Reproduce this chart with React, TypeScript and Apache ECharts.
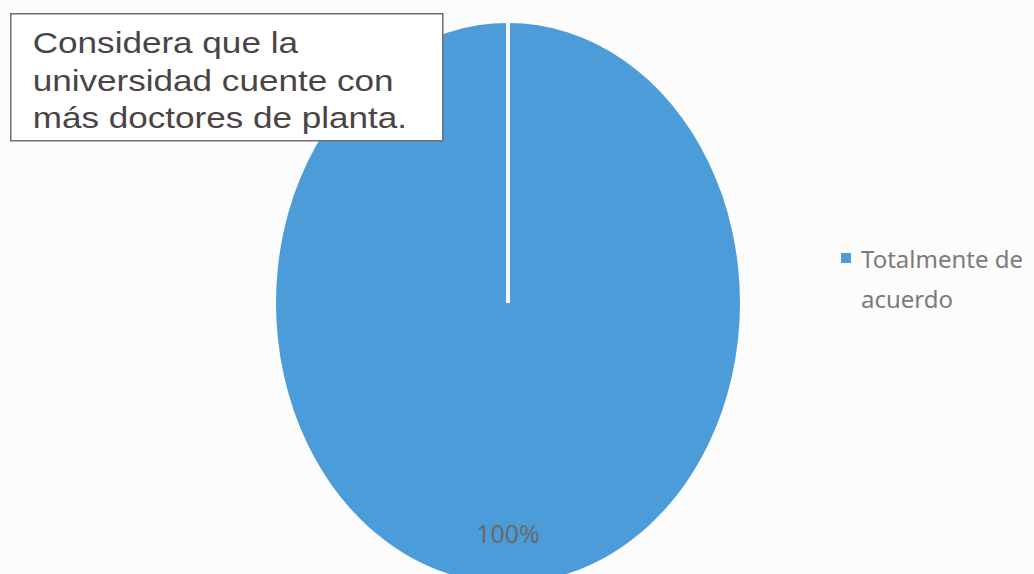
import React, { useEffect, useRef } from "react";
import * as echarts from "echarts";

const titleLines = ["Considera que la", "universidad cuente con", "más doctores de planta."];
const categories = ["Totalmente de acuerdo"];
const values = [100];
const legendLines = ["Totalmente de", "acuerdo"];

export default function App() {
  const ref = useRef<HTMLDivElement>(null);
  useEffect(() => {
    if (!ref.current) return;
    const chart = echarts.init(ref.current, null, { renderer: "svg" });
    const total = values.reduce((a, b) => a + b, 0);
    const cx = 508, cy = 303, rx = 232, ry = 280;
    const color = "#4b9cd9";
    chart.setOption({
      animation: false,
      backgroundColor: "#fcfcfc",
      legend: {
        orient: "vertical",
        left: 841,
        top: 198,
        padding: 0,
        itemWidth: 15,
        itemHeight: 10,
        itemGap: 0,
        data: [{ name: categories[0], icon: "path://M0,0H10V10H0ZM15,5L15,5Z" }],
        formatter: () => "\n" + legendLines.join("\n"),
        textStyle: {
          fontFamily: "Noto Sans",
          fontSize: 24,
          color: "#7b7b7b",
          lineHeight: 40,
        },
      },
      graphic: [
        {
          type: "group",
          left: 10,
          top: 13,
          z: 100,
          children: [
            {
              type: "rect",
              z: 100,
              shape: { x: 0, y: 0, width: 432, height: 127 },
              style: { fill: "#ffffff", stroke: "#6e6e6e", lineWidth: 1.5 },
            },
            {
              type: "text",
              z: 101,
              x: 22,
              y: 10,
              scaleX: 1.17,
              style: {
                text: titleLines.join("\n"),
                fontFamily: "Liberation Sans",
                fontSize: 30,
                lineHeight: 37.5,
                fill: "#4a4446",
                verticalAlign: "top",
              },
            },
          ],
        },
      ],
      series: [
        {
          type: "custom",
          name: categories[0],
          coordinateSystem: "none",
          itemStyle: { color },
          data: values.map((v, i) => ({ name: categories[i], value: v })),
          renderItem: (params: any) => {
            const i = params.dataIndex;
            let before = 0;
            for (let k = 0; k < i; k++) before += values[k];
            const start = -Math.PI / 2 + (before / total) * Math.PI * 2;
            const end = -Math.PI / 2 + ((before + values[i]) / total) * Math.PI * 2;
            const mid = (start + end) / 2;
            const pct = Math.round((values[i] / total) * 100) + "%";
            return {
              type: "group",
              children: [
                {
                  type: "group",
                  x: cx,
                  y: cy,
                  scaleY: ry / rx,
                  children: [
                    {
                      type: "sector",
                      shape: { cx: 0, cy: 0, r0: 0, r: rx, startAngle: start, endAngle: end, clockwise: true },
                      style: { fill: color },
                    },
                  ],
                },
                {
                  type: "line",
                  shape: {
                    x1: cx,
                    y1: cy,
                    x2: cx + (rx + 3) * Math.cos(start),
                    y2: cy + (ry + 3) * Math.sin(start),
                  },
                  style: { stroke: "#f4f8fb", lineWidth: 4 },
                },
                {
                  type: "text",
                  x: cx + 0.82 * rx * Math.cos(mid),
                  y: cy + 0.82 * ry * Math.sin(mid),
                  style: {
                    text: pct,
                    fontFamily: "Noto Sans",
                    fontSize: 25,
                    fill: "#6a6a6a",
                    align: "center",
                    verticalAlign: "middle",
                  },
                },
              ],
            };
          },
        },
      ],
    });
    return () => chart.dispose();
  }, []);
  return (
    <div
      ref={ref}
      style={{ position: "fixed", left: 0, top: 0, width: 1034, height: 574 }}
    />
  );
}
